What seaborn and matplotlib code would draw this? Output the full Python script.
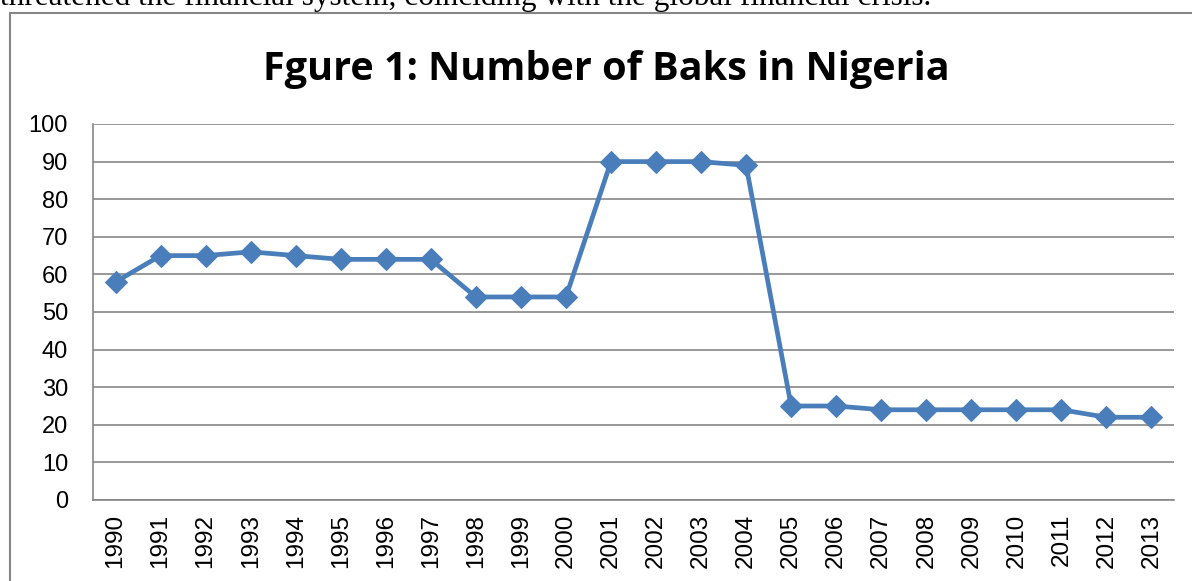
import matplotlib
matplotlib.use("Agg")
import matplotlib.pyplot as plt
import numpy as np
import pandas as pd
import seaborn as sns
from matplotlib.lines import Line2D

# data
years = [str(y) for y in range(1990, 2014)]
banks = [58, 65, 65, 66, 65, 64, 64, 64, 54, 54, 54, 90,
         90, 90, 89, 25, 25, 24, 24, 24, 24, 24, 22, 22]
yticks = [0, 10, 20, 30, 40, 50, 60, 70, 80, 90, 100]

df = pd.DataFrame({'year': years, 'banks': banks})

sns.set_style('white')
plt.rcParams['font.family'] = ['Liberation Sans', 'DejaVu Sans']
plt.rcParams['text.color'] = 'black'
plt.rcParams['xtick.labelcolor'] = 'black'
plt.rcParams['ytick.labelcolor'] = 'black'

fig = plt.figure(figsize=(11.92, 5.81), dpi=100)
ax = fig.add_axes([93/1192, 1-500/581, (1174-93)/1192, (500-124)/581])

line_col = '#4a7ebb'
sns.lineplot(data=df, x='year', y='banks', ax=ax, color=line_col, linewidth=3.4,
             marker='D', markersize=11.5, markeredgecolor=line_col, sort=False)

ax.set_xlim(-0.5, len(years) - 0.5)
ax.set_ylim(0, 100)
ax.set_yticks(yticks)
ax.set_yticklabels([str(t) for t in yticks], fontsize=17)
ax.set_xticks(range(len(years)))
ax.set_xticklabels(years, rotation=90, fontsize=17.5)
ax.set_xticks(np.arange(-0.5, len(years)), minor=True)
ax.tick_params(axis='x', which='major', length=0, pad=10)
ax.tick_params(axis='x', which='minor', length=7, width=1.2, color='#868686', direction='out')
ax.tick_params(axis='y', length=7, width=1.2, color='#868686', direction='out', pad=11)
ax.set_xlabel('')
ax.set_ylabel('')
ax.grid(axis='y', color='#868686', linewidth=1.2)
ax.set_axisbelow(True)
for s in ['top', 'right']:
    ax.spines[s].set_visible(False)
for s in ['left', 'bottom']:
    ax.spines[s].set_color('#868686')
    ax.spines[s].set_linewidth(1.2)

fig.text(606/1192, 1-80/581, 'Fgure 1: Number of Baks in Nigeria', fontsize=28.5,
         fontweight='bold', family=['Open Sans', 'DejaVu Sans'], ha='center', va='baseline',
         color='black')

# chart frame and the clipped document text above it
fig.add_artist(Line2D([10/1192, 10/1192], [0, 1-13/581], color='#868686', lw=1.5))
fig.add_artist(Line2D([10/1192, 1], [1-13/581, 1-13/581], color='#868686', lw=1.5))
fig.text(0.0, 1-5/581, 'threatened the financial system, coinciding with the global financial crisis.',
         family=['Liberation Serif', 'DejaVu Serif'], fontsize=22.5, va='baseline', ha='left')

fig.savefig('out.png', dpi=100)
